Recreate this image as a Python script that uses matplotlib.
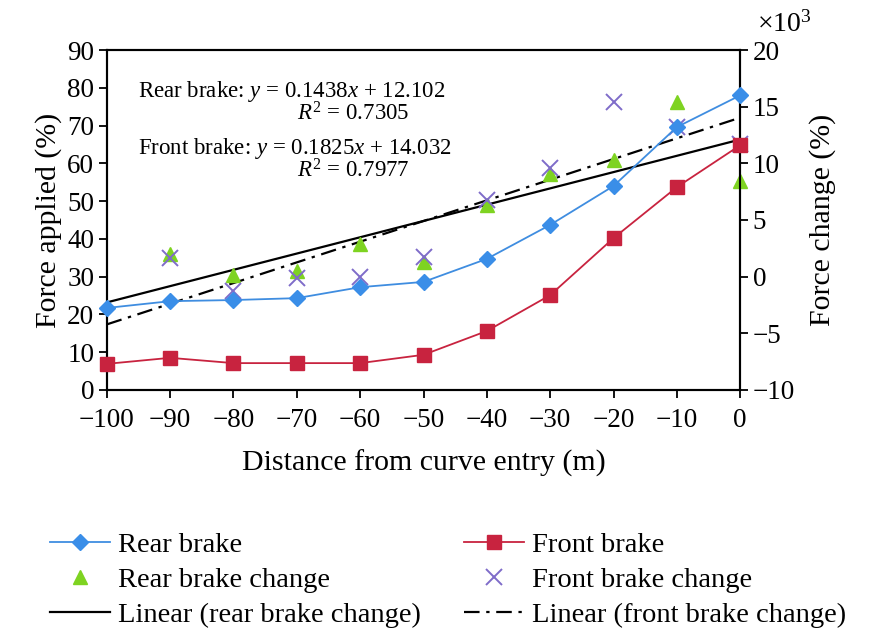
import matplotlib
matplotlib.use("Agg")
import matplotlib.pyplot as plt
import numpy as np

plt.rcParams['font.family'] = ['Liberation Serif', 'DejaVu Serif']
plt.rcParams['mathtext.fontset'] = 'custom'
plt.rcParams['mathtext.rm'] = 'Liberation Serif'
plt.rcParams['mathtext.it'] = 'Liberation Serif:italic'

distance = [-100, -90, -80, -70, -60, -50, -40, -30, -20, -10, 0]
rear_brake = [21.7, 23.5, 23.8, 24.3, 27.2, 28.6, 34.7, 43.7, 54.0, 69.6, 78.0]
front_brake = [6.9, 8.5, 7.1, 7.1, 7.1, 9.3, 15.6, 25.1, 40.2, 53.7, 64.8]

change_x = [-90, -80, -70, -60, -50, -40, -30, -20, -10, 0]
rear_change = [2.0, 0.1, 0.5, 2.9, 1.3, 6.3, 9.1, 10.3, 15.4, 8.4]
front_change = [1.6, -1.3, -0.1, 0.0, 1.7, 6.8, 9.6, 15.4, 13.2, 11.7]

rear_fit = (0.1438, 12.102)
front_fit = (0.1825, 14.032)
fit_x = [-100, 0]

fig = plt.figure(figsize=(8.75, 6.33), dpi=100)
ax = fig.add_axes([0.122, 0.384, 0.724, 0.537])
ax2 = ax.twinx()

blue = '#3f8de0'
red = '#c8233f'
green = '#7ed321'
purple = '#7f6cc9'

l1, = ax.plot(distance, rear_brake, '-', color=blue, lw=1.3, marker='D', ms=8,
              mfc='#3a8ee8', mec='#3a8ee8', clip_on=False, zorder=5, label='Rear brake')
l2, = ax.plot(distance, front_brake, '-', color=red, lw=1.3, marker='s', ms=10,
              mfc=red, mec=red, clip_on=False, zorder=5, label='Front brake')

fx = np.array(fit_x, dtype=float)
l5, = ax2.plot(fx, rear_fit[0] * fx + rear_fit[1], '-', color='black', lw=1.6,
               label='Linear (rear brake change)')
l6, = ax2.plot(fx, front_fit[0] * fx + front_fit[1], color='black', lw=1.6,
               dashes=[7, 3, 1.5, 3], label='Linear (front brake change)')
l3, = ax2.plot(change_x, rear_change, '^', color=green, ms=10, ls='none',
               clip_on=False, zorder=4, label='Rear brake change')
l4, = ax2.plot(change_x, front_change, 'x', color=purple, ms=11, mew=1.4, ls='none',
               clip_on=False, zorder=4, label='Front brake change')

ax.set_zorder(ax2.get_zorder() + 1)
ax.patch.set_visible(False)

ax.set_xlim(-100, 0)
ax.set_ylim(0, 90)
ax2.set_ylim(-10, 20)
ax.set_xticks(distance)
ax.set_yticks(np.arange(0, 91, 10))
ax2.set_yticks(np.arange(-10, 21, 5))

for a in (ax, ax2):
    a.tick_params(direction='out', length=6, width=1.3, labelsize=19.5, pad=3)
    for s in a.spines.values():
        s.set_linewidth(1.5)
ax.tick_params(axis='x', pad=7)

ax.set_xlabel('Distance from curve entry (m)', fontsize=21.5, labelpad=12)
ax.set_ylabel('Force applied (%)', fontsize=21.5, labelpad=4)
ax2.set_ylabel('Force change (%)', fontsize=21.5, labelpad=10)
fig.text(0.865, 0.962, r'$\times 10^3$', fontsize=20, ha='left', va='center')

ax.text(0.05, 0.862, r'Rear brake: $y$ = 0.1438$x$ + 12.102', transform=ax.transAxes, fontsize=16.5)
ax.text(0.3, 0.792, r'$R^2$ = 0.7305', transform=ax.transAxes, fontsize=16.5)
ax.text(0.05, 0.695, r'Front brake: $y$ = 0.1825$x$ + 14.032', transform=ax.transAxes, fontsize=16.5)
ax.text(0.3, 0.625, r'$R^2$ = 0.7977', transform=ax.transAxes, fontsize=16.5)

handles = [l1, l3, l5, l2, l4, l6]
fig.legend(handles=handles, labels=[h.get_label() for h in handles], ncol=2,
           loc='upper left', bbox_to_anchor=(0.041, 0.182), frameon=False,
           fontsize=20.5, handlelength=2.1, columnspacing=1.5, labelspacing=0.32,
           handletextpad=0.3, borderpad=0.0)

fig.savefig('out.png', dpi=100)
